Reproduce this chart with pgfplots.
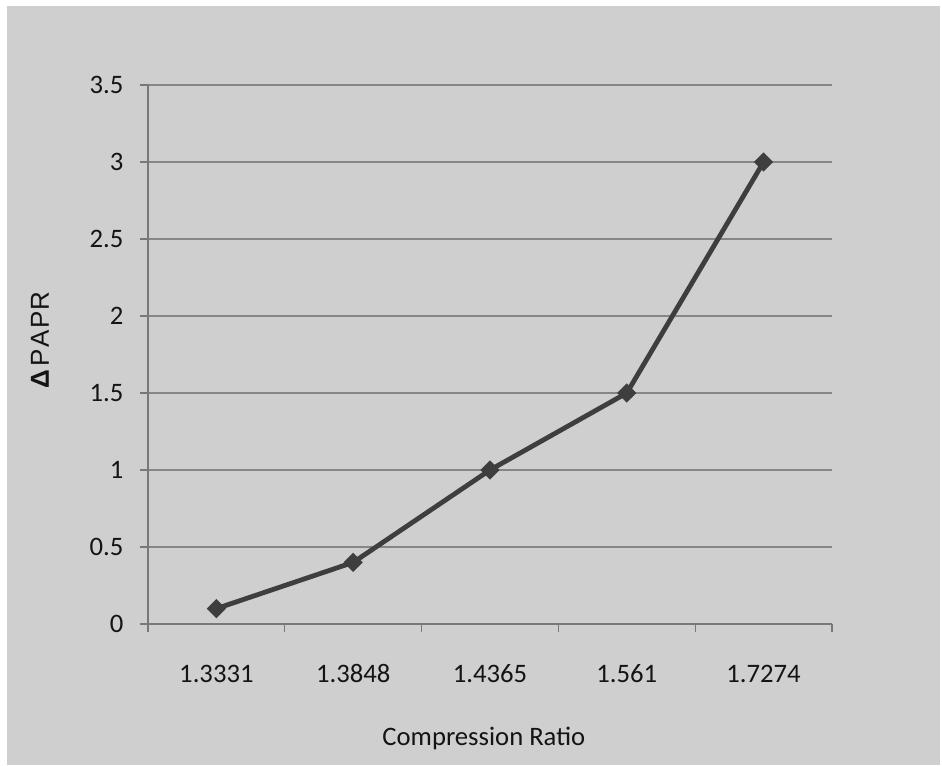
\documentclass[border=0pt]{standalone}
\usepackage{pgfplots}
\pgfplotsset{compat=1.18}
\usepackage{fontspec}
\setmainfont{Carlito}
\newfontfamily\labelfont{Liberation Sans}
\definecolor{panel}{RGB}{207,207,207}
\definecolor{gridgray}{RGB}{134,134,134}
\definecolor{axisgray}{RGB}{120,120,120}
\definecolor{linegray}{RGB}{62,62,62}
\definecolor{textdark}{RGB}{20,20,20}

\pgfplotstableread{
idx ratio dpapr
0 1.3331 0.1
1 1.3848 0.4
2 1.4365 1.0
3 1.561  1.5
4 1.7274 3.0
}\papr

\begin{document}
\begin{tikzpicture}
  % page and grey chart area
  \useasboundingbox (0pt,0pt) rectangle (706.5pt,573.75pt);
  \fill[white] (0pt,0pt) rectangle (706.5pt,573.75pt);
  \fill[panel] (5.25pt,0pt) rectangle (705pt,569.25pt);
  \begin{axis}[
    at={(111pt,105.75pt)}, anchor=south west,
    width=513pt, height=404.25pt, scale only axis,
    xmin=-0.5, xmax=4.5, ymin=0, ymax=3.5,
    xtick={0,1,2,3,4},
    xticklabels={1.3331,1.3848,1.4365,1.561,1.7274},
    minor xtick={-0.5,0.5,1.5,2.5,3.5,4.5},
    ytick={0,0.5,1,1.5,2,2.5,3,3.5},
    yticklabels={0,0.5,1,1.5,2,2.5,3,3.5},
    axis x line*=bottom, axis y line*=left,
    axis line style={axisgray, line width=1.5pt},
    x axis line style={-},
    y axis line style={-, line width=1pt},
    tick align=outside,
    major tick length=6pt, minor tick length=6pt,
    major x tick style={draw=none},
    minor x tick style={axisgray, line width=1pt},
    major y tick style={axisgray, line width=1pt},
    ymajorgrids,
    grid style={gridgray, line width=1.5pt},
    ticklabel style={font=\fontsize{20}{24}\selectfont, text=textdark},
    /pgf/number format/assume math mode=true,
    yticklabel style={xshift=-9pt},
    xticklabel style={yshift=-21pt},
    xlabel={Compression Ratio},
    xlabel style={font=\fontsize{20}{24}\selectfont, text=textdark,
      at={(axis description cs:0.491,-0.2115)}, anchor=center},
    ylabel={{\bfseries Δ}\hspace{0.15em}P\hspace{0.05em}A\hspace{0.05em}P\hspace{0.05em}R},
    ylabel style={font=\labelfont\fontsize{19.5}{23}\selectfont, text=textdark,
      at={(axis description cs:-0.158,0.527)}, anchor=center, rotate=0},
    clip=false,
  ]
    \addplot[linegray, line width=3.6pt, mark=square*,
      mark size=4.6pt, mark options={rotate=45, fill=linegray, draw=linegray, line width=1pt}]
      table[x=idx, y=dpapr] {\papr};
  \end{axis}
\end{tikzpicture}
\end{document}
